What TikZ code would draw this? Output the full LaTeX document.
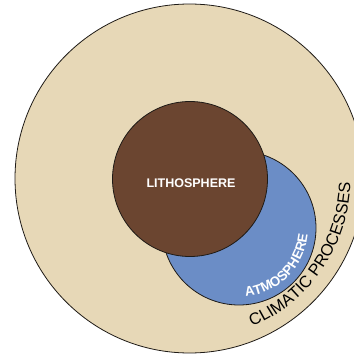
\documentclass[tikz,border=0pt]{standalone}
\usepackage{fontspec}
\setmainfont{Liberation Sans}
\usepackage{tikz}
\usetikzlibrary{positioning,decorations.text}
\definecolor{sphTan}{HTML}{E7D8B7}
\definecolor{sphBrown}{HTML}{6B4530}
\definecolor{sphBlue}{HTML}{6B8DC6}
\definecolor{sphEdge}{HTML}{1E1A16}
\tikzset{
  disc/.style={circle,draw=sphEdge,line width=0.8pt,inner sep=0pt},
  outerdisc/.style={disc,fill=sphTan,minimum size=349pt},
  litho/.style={disc,fill=sphBrown,minimum size=155pt},
  atmo/.style={disc,fill=sphBlue,minimum size=154pt},
  whitelabel/.style={text=white,font=\bfseries\fontsize{12.5}{14}\selectfont}
}

\begin{document}
\begin{tikzpicture}[x=1pt,y=1pt]
      \useasboundingbox (0,0) rectangle (354,357);
      \node[outerdisc] (climate) at (189.5,178.5) {};
      \node[atmo] (atm) at (239,129) {};
      \node[litho] (lith) at (190,178) {};
      \node[whitelabel] (lithtext) at ([xshift=1pt,yshift=-4pt]lith.center) {LITHOSPHERE};

      % curved labels
      \path[decorate,decoration={text along path,text align=center,
          text={|\color{white}\bfseries\fontsize{13.5}{15}\selectfont|ATMOSPHERE}}]
        (atm.center) ++(-97:69) arc[start angle=-97,end angle=7,radius=69];
      \path[decorate,decoration={text along path,text align=center,
          text={|\fontsize{16.5}{18}\selectfont|CLIMATIC PROCESSES}}]
        (climate.center) ++(-80:161) arc[start angle=-80,end angle=11.4,radius=161];
    \end{tikzpicture}
\end{document}
